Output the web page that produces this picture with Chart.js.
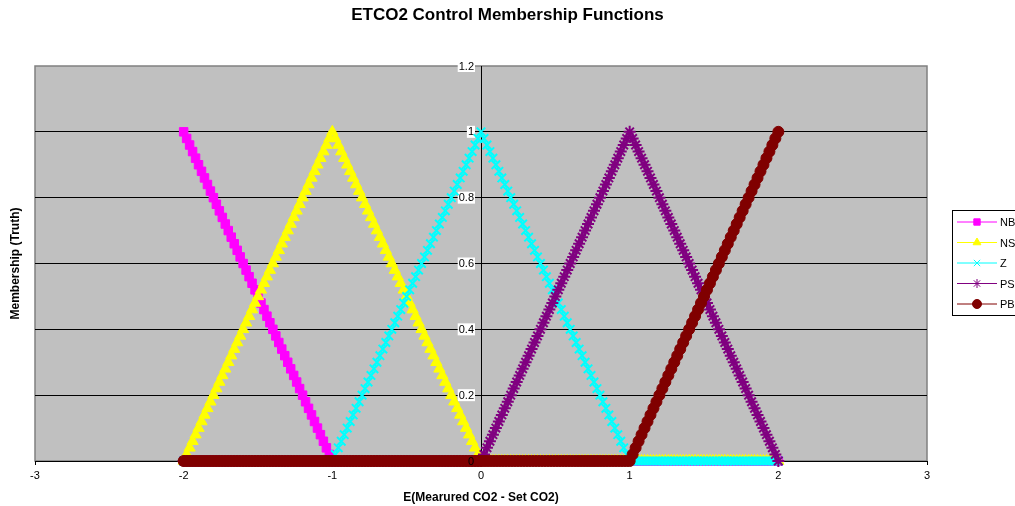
<!DOCTYPE html>
<html>
<head>
<meta charset="utf-8">
<script src="https://cdn.jsdelivr.net/npm/chart.js@4/dist/chart.umd.min.js"></script>
<style>
  html, body { margin: 0; padding: 0; background: #fff; overflow: hidden; }
</style>
</head>
<body>
<canvas id="chart" width="1015" height="506"></canvas>
<script>
// x positions of the samples, -2 .. 2
const xValues = [
  -2,-1.98,-1.96,-1.94,-1.92,-1.9,-1.88,-1.86,-1.84,-1.82,-1.8,-1.78,-1.76,-1.74,-1.72,-1.7,-1.68,-1.66,-1.64,-1.62,-1.6,-1.58,-1.56,-1.54,-1.52,
  -1.5,-1.48,-1.46,-1.44,-1.42,-1.4,-1.38,-1.36,-1.34,-1.32,-1.3,-1.28,-1.26,-1.24,-1.22,-1.2,-1.18,-1.16,-1.14,-1.12,-1.1,-1.08,-1.06,-1.04,-1.02,-1,
  -0.98,-0.96,-0.94,-0.92,-0.9,-0.88,-0.86,-0.84,-0.82,-0.8,-0.78,-0.76,-0.74,-0.72,-0.7,-0.68,-0.66,-0.64,-0.62,-0.6,-0.58,-0.56,-0.54,-0.52,-0.5,
  -0.48,-0.46,-0.44,-0.42,-0.4,-0.38,-0.36,-0.34,-0.32,-0.3,-0.28,-0.26,-0.24,-0.22,-0.2,-0.18,-0.16,-0.14,-0.12,-0.1,-0.08,-0.06,-0.04,-0.02,0,
  0.02,0.04,0.06,0.08,0.1,0.12,0.14,0.16,0.18,0.2,0.22,0.24,0.26,0.28,0.3,0.32,0.34,0.36,0.38,0.4,0.42,0.44,0.46,0.48,0.5,
  0.52,0.54,0.56,0.58,0.6,0.62,0.64,0.66,0.68,0.7,0.72,0.74,0.76,0.78,0.8,0.82,0.84,0.86,0.88,0.9,0.92,0.94,0.96,0.98,1,
  1.02,1.04,1.06,1.08,1.1,1.12,1.14,1.16,1.18,1.2,1.22,1.24,1.26,1.28,1.3,1.32,1.34,1.36,1.38,1.4,1.42,1.44,1.46,1.48,1.5,
  1.52,1.54,1.56,1.58,1.6,1.62,1.64,1.66,1.68,1.7,1.72,1.74,1.76,1.78,1.8,1.82,1.84,1.86,1.88,1.9,1.92,1.94,1.96,1.98,2
];

const nbValues = [
  1,0.98,0.96,0.94,0.92,0.9,0.88,0.86,0.84,0.82,0.8,0.78,0.76,0.74,0.72,0.7,0.68,0.66,0.64,0.62,0.6,0.58,0.56,0.54,0.52,
  0.5,0.48,0.46,0.44,0.42,0.4,0.38,0.36,0.34,0.32,0.3,0.28,0.26,0.24,0.22,0.2,0.18,0.16,0.14,0.12,0.1,0.08,0.06,0.04,0.02,0,
  0,0,0,0,0,0,0,0,0,0,0,0,0,0,0,0,0,0,0,0,0,0,0,0,0,
  0,0,0,0,0,0,0,0,0,0,0,0,0,0,0,0,0,0,0,0,0,0,0,0,0,
  0,0,0,0,0,0,0,0,0,0,0,0,0,0,0,0,0,0,0,0,0,0,0,0,0,
  0,0,0,0,0,0,0,0,0,0,0,0,0,0,0,0,0,0,0,0,0,0,0,0,0,
  0,0,0,0,0,0,0,0,0,0,0,0,0,0,0,0,0,0,0,0,0,0,0,0,0,
  0,0,0,0,0,0,0,0,0,0,0,0,0,0,0,0,0,0,0,0,0,0,0,0,0
];

const nsValues = [
  0,0.02,0.04,0.06,0.08,0.1,0.12,0.14,0.16,0.18,0.2,0.22,0.24,0.26,0.28,0.3,0.32,0.34,0.36,0.38,0.4,0.42,0.44,0.46,0.48,
  0.5,0.52,0.54,0.56,0.58,0.6,0.62,0.64,0.66,0.68,0.7,0.72,0.74,0.76,0.78,0.8,0.82,0.84,0.86,0.88,0.9,0.92,0.94,0.96,0.98,1,
  0.98,0.96,0.94,0.92,0.9,0.88,0.86,0.84,0.82,0.8,0.78,0.76,0.74,0.72,0.7,0.68,0.66,0.64,0.62,0.6,0.58,0.56,0.54,0.52,0.5,
  0.48,0.46,0.44,0.42,0.4,0.38,0.36,0.34,0.32,0.3,0.28,0.26,0.24,0.22,0.2,0.18,0.16,0.14,0.12,0.1,0.08,0.06,0.04,0.02,0,
  0,0,0,0,0,0,0,0,0,0,0,0,0,0,0,0,0,0,0,0,0,0,0,0,0,
  0,0,0,0,0,0,0,0,0,0,0,0,0,0,0,0,0,0,0,0,0,0,0,0,0,
  0,0,0,0,0,0,0,0,0,0,0,0,0,0,0,0,0,0,0,0,0,0,0,0,0,
  0,0,0,0,0,0,0,0,0,0,0,0,0,0,0,0,0,0,0,0,0,0,0,0,0
];

const zValues = [
  0,0,0,0,0,0,0,0,0,0,0,0,0,0,0,0,0,0,0,0,0,0,0,0,0,
  0,0,0,0,0,0,0,0,0,0,0,0,0,0,0,0,0,0,0,0,0,0,0,0,0,
  0,0.02,0.04,0.06,0.08,0.1,0.12,0.14,0.16,0.18,0.2,0.22,0.24,0.26,0.28,0.3,0.32,0.34,0.36,0.38,0.4,0.42,0.44,0.46,0.48,
  0.5,0.52,0.54,0.56,0.58,0.6,0.62,0.64,0.66,0.68,0.7,0.72,0.74,0.76,0.78,0.8,0.82,0.84,0.86,0.88,0.9,0.92,0.94,0.96,0.98,1,
  0.98,0.96,0.94,0.92,0.9,0.88,0.86,0.84,0.82,0.8,0.78,0.76,0.74,0.72,0.7,0.68,0.66,0.64,0.62,0.6,0.58,0.56,0.54,0.52,0.5,
  0.48,0.46,0.44,0.42,0.4,0.38,0.36,0.34,0.32,0.3,0.28,0.26,0.24,0.22,0.2,0.18,0.16,0.14,0.12,0.1,0.08,0.06,0.04,0.02,0,
  0,0,0,0,0,0,0,0,0,0,0,0,0,0,0,0,0,0,0,0,0,0,0,0,0,
  0,0,0,0,0,0,0,0,0,0,0,0,0,0,0,0,0,0,0,0,0,0,0,0,0
];

const psValues = [
  0,0,0,0,0,0,0,0,0,0,0,0,0,0,0,0,0,0,0,0,0,0,0,0,0,
  0,0,0,0,0,0,0,0,0,0,0,0,0,0,0,0,0,0,0,0,0,0,0,0,0,
  0,0,0,0,0,0,0,0,0,0,0,0,0,0,0,0,0,0,0,0,0,0,0,0,0,
  0,0,0,0,0,0,0,0,0,0,0,0,0,0,0,0,0,0,0,0,0,0,0,0,0,
  0,0.02,0.04,0.06,0.08,0.1,0.12,0.14,0.16,0.18,0.2,0.22,0.24,0.26,0.28,0.3,0.32,0.34,0.36,0.38,0.4,0.42,0.44,0.46,0.48,
  0.5,0.52,0.54,0.56,0.58,0.6,0.62,0.64,0.66,0.68,0.7,0.72,0.74,0.76,0.78,0.8,0.82,0.84,0.86,0.88,0.9,0.92,0.94,0.96,0.98,1,
  0.98,0.96,0.94,0.92,0.9,0.88,0.86,0.84,0.82,0.8,0.78,0.76,0.74,0.72,0.7,0.68,0.66,0.64,0.62,0.6,0.58,0.56,0.54,0.52,0.5,
  0.48,0.46,0.44,0.42,0.4,0.38,0.36,0.34,0.32,0.3,0.28,0.26,0.24,0.22,0.2,0.18,0.16,0.14,0.12,0.1,0.08,0.06,0.04,0.02,0
];

const pbValues = [
  0,0,0,0,0,0,0,0,0,0,0,0,0,0,0,0,0,0,0,0,0,0,0,0,0,
  0,0,0,0,0,0,0,0,0,0,0,0,0,0,0,0,0,0,0,0,0,0,0,0,0,
  0,0,0,0,0,0,0,0,0,0,0,0,0,0,0,0,0,0,0,0,0,0,0,0,0,
  0,0,0,0,0,0,0,0,0,0,0,0,0,0,0,0,0,0,0,0,0,0,0,0,0,
  0,0,0,0,0,0,0,0,0,0,0,0,0,0,0,0,0,0,0,0,0,0,0,0,0,
  0,0,0,0,0,0,0,0,0,0,0,0,0,0,0,0,0,0,0,0,0,0,0,0,0,
  0,0.02,0.04,0.06,0.08,0.1,0.12,0.14,0.16,0.18,0.2,0.22,0.24,0.26,0.28,0.3,0.32,0.34,0.36,0.38,0.4,0.42,0.44,0.46,0.48,
  0.5,0.52,0.54,0.56,0.58,0.6,0.62,0.64,0.66,0.68,0.7,0.72,0.74,0.76,0.78,0.8,0.82,0.84,0.86,0.88,0.9,0.92,0.94,0.96,0.98,1
];

const seriesNames = ["NB", "NS", "Z", "PS", "PB"];
const seriesValues = [nbValues, nsValues, zValues, psValues, pbValues];
const seriesColors = ["#FF00FF", "#FFFF00", "#00FFFF", "#800080", "#800000"];
const seriesMarkers = ["rect", "triangle", "crossRot", "star", "circle"];
const markerRadius = [6, 6.5, 6, 6, 5.5];
const markerStroke = [1, 1, 2, 2, 1];

const FONT = "'Liberation Sans', Arial, sans-serif";

function toPoints(ys) {
  return xValues.map((x, i) => ({ x: x, y: ys[i] }));
}

const datasets = seriesNames.map((name, i) => ({
  label: name,
  data: toPoints(seriesValues[i]),
  showLine: true,
  clip: false,
  borderColor: seriesColors[i],
  backgroundColor: seriesColors[i],
  borderWidth: 1,
  pointStyle: seriesMarkers[i],
  pointRadius: markerRadius[i],
  pointBorderWidth: markerStroke[i],
  pointBorderColor: seriesColors[i],
  pointBackgroundColor: seriesColors[i],
  order: seriesNames.length - i   // later series drawn on top, like Excel
}));

// grey plot area with its border
const plotBackground = {
  id: 'plotBackground',
  beforeDraw(chart) {
    const { ctx, chartArea: a } = chart;
    ctx.save();
    ctx.fillStyle = '#C0C0C0';
    ctx.fillRect(a.left, a.top, a.right - a.left, a.bottom - a.top);
    ctx.strokeStyle = '#808080';
    ctx.lineWidth = 1.5;
    ctx.strokeRect(a.left, a.top, a.right - a.left, a.bottom - a.top);
    ctx.restore();
  }
};

// y tick labels sit left of the axis that crosses at x = 0, on white boxes
function drawYLabel(chart, tick, boxed) {
  const ctx = chart.ctx;
  const x = chart.scales.x.getPixelForValue(0) - 7;
  const y = chart.scales.y.getPixelForValue(tick.value);
  const text = String(Math.round(tick.value * 10) / 10);
  ctx.font = "11px " + FONT;
  const w = ctx.measureText(text).width;
  if (boxed) {
    ctx.fillStyle = '#fff';
    ctx.fillRect(x - w - 1, y - 6, w + 2, 12);
  }
  ctx.fillStyle = '#000';
  ctx.textAlign = 'right';
  ctx.textBaseline = 'middle';
  ctx.fillText(text, x, y + 0.5);
}

const yLabels = {
  id: 'yLabels',
  beforeDatasetsDraw(chart) {
    chart.ctx.save();
    chart.scales.y.ticks.forEach(t => { if (t.value > 0.01) drawYLabel(chart, t, true); });
    chart.ctx.restore();
  },
  afterDatasetsDraw(chart) {
    chart.ctx.save();
    chart.scales.y.ticks.forEach(t => { if (t.value <= 0.01) drawYLabel(chart, t, false); });
    chart.ctx.restore();
  }
};

// Excel-style legend box, partly cut off at the right edge
const boxLegend = {
  id: 'boxLegend',
  afterDraw(chart) {
    const ctx = chart.ctx;
    ctx.save();
    ctx.fillStyle = '#fff';
    ctx.fillRect(952, 210, 90, 106);
    ctx.strokeStyle = '#000';
    ctx.lineWidth = 1;
    ctx.strokeRect(952.5, 210.5, 90, 105);
    ctx.font = "11px " + FONT;
    ctx.textBaseline = 'middle';
    chart.data.datasets.forEach((ds, i) => {
      const y = 222 + i * 20.5;
      ctx.strokeStyle = ds.borderColor;
      ctx.lineWidth = 1;
      ctx.beginPath();
      ctx.moveTo(957, y);
      ctx.lineTo(997, y);
      ctx.stroke();
      ctx.fillStyle = ds.pointBackgroundColor;
      ctx.strokeStyle = ds.pointBorderColor;
      Chart.helpers.drawPoint(ctx, { pointStyle: ds.pointStyle, radius: 4.5, rotation: 0, borderWidth: ds.pointBorderWidth }, 977, y);
      ctx.fillStyle = '#000';
      ctx.fillText(ds.label, 1000, y + 1);
    });
    ctx.restore();
  }
};

new Chart(document.getElementById('chart'), {
  type: 'scatter',
  data: { datasets: datasets },
  options: {
    responsive: false,
    animation: false,
    devicePixelRatio: 1,
    layout: { padding: 0 },
    plugins: {
      legend: { display: false },
      tooltip: { enabled: false },
      title: {
        display: true,
        text: 'ETCO2 Control Membership Functions',
        color: '#000',
        font: { family: FONT, size: 17, weight: 'bold' },
        padding: { top: 5, bottom: 40.6 }
      }
    },
    scales: {
      x: {
        type: 'linear',
        position: 'bottom',
        min: -3,
        max: 3,
        afterFit(scale) { scale.height = 45; },
        ticks: {
          stepSize: 1,
          color: '#000',
          padding: 4,
          font: { family: FONT, size: 11 }
        },
        grid: { drawOnChartArea: false, tickLength: 4, color: '#000' },
        border: { color: '#000', width: 1 },
        title: {
          display: true,
          text: 'E(Mearured CO2 - Set CO2)',
          color: '#000',
          font: { family: FONT, size: 12, weight: 'bold' },
          padding: { top: 0, bottom: 1.5 }
        }
      },
      y: {
        type: 'linear',
        position: { x: 0 },
        min: 0,
        max: 1.2,
        ticks: { stepSize: 0.2, display: false },
        grid: {
          color: (c) => (c.tick && c.tick.value >= 1.19) ? 'rgba(0,0,0,0)' : '#000',
          lineWidth: 1,
          tickLength: 5
        },
        border: { color: '#000', width: 1 }
      },
      yTitle: {
        type: 'linear',
        position: 'left',
        min: 0,
        max: 1,
        afterFit(scale) { scale.width = 35; },
        ticks: { display: false },
        grid: { display: false },
        border: { display: false },
        title: {
          display: true,
          text: 'Membership (Truth)',
          color: '#000',
          font: { family: FONT, size: 12, weight: 'bold' },
          padding: { top: 8.5, bottom: 0 }
        }
      },
      // empty strip on the right where the legend box sits
      legendSpace: {
        type: 'linear',
        position: 'right',
        min: 0,
        max: 1,
        afterFit(scale) { scale.width = 88; },
        ticks: { display: false },
        grid: { display: false },
        border: { display: false }
      }
    }
  },
  plugins: [plotBackground, yLabels, boxLegend]
});
</script>
</body>
</html>
